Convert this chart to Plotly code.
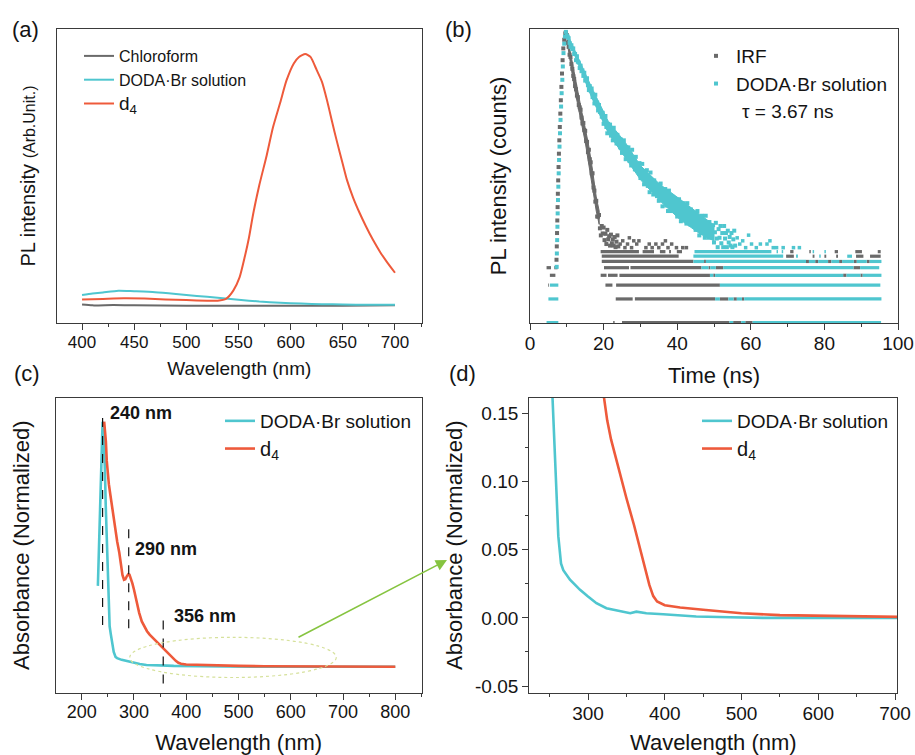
import numpy as np
import plotly.graph_objects as go

W, H = 915, 755
FONT = "Liberation Sans, Arial, Helvetica, sans-serif"
GRAY = "#6a6a6a"
CYAN = "#4fc6cf"
RED = "#ee5a3b"
AX = "#3a3a3a"
TXT = "#141414"

# ---------------- (a) PL spectra ----------------
A_WL_CHL = [400, 410, 430, 450, 500, 550, 600, 650, 700]
A_PL_CHL = [0.063, 0.060, 0.061, 0.060, 0.059, 0.059, 0.059, 0.059, 0.060]
A_WL_DODA = [400, 410, 420, 435, 450, 470, 490, 510, 530, 550, 570, 590, 610, 630, 650, 675, 700]
A_PL_DODA = [0.095, 0.100, 0.104, 0.110, 0.108, 0.105, 0.099, 0.092, 0.086, 0.079, 0.073,
             0.069, 0.066, 0.064, 0.063, 0.062, 0.062]
A_WL_D4 = [400, 420, 440, 460, 480, 500, 520, 530, 538, 545, 551, 556, 560, 564, 570, 577, 583,
           590, 596, 603, 608, 614, 619, 625, 630, 635, 640, 644, 650, 654, 660, 666, 672, 679,
           686, 692, 700]
A_PL_D4 = [0.080, 0.082, 0.084, 0.083, 0.080, 0.078, 0.076, 0.076, 0.082, 0.110, 0.155, 0.225,
           0.29, 0.37, 0.47, 0.57, 0.665, 0.75, 0.825, 0.883, 0.905, 0.915, 0.905, 0.86, 0.82,
           0.755, 0.68, 0.622, 0.54, 0.486, 0.425, 0.375, 0.33, 0.282, 0.24, 0.209, 0.171]

# ---------------- (b) TRPL decay (log10 of counts) ----------------
B_CHANNEL_NS = 0.25
B_IRF_DECAY_T0 = 9.75
B_IRF_DECAY_LOG10 = [
    3.69, 3.66, 3.56, 3.51, 3.41, 3.38, 3.29, 3.23, 3.14, 3.10,
    3.01, 2.97, 2.89, 2.87, 2.77, 2.74, 2.71, 2.61, 2.535, 2.54,
    2.45, 2.44, 2.31, 2.30, 2.17, 2.20, 2.08, 2.04, 1.90, 1.90,
    1.72, 1.68, 1.54, 1.55, 1.35, 1.35, 1.37, 1.20, 1.11, 1.23,
    1.135, 1.21, 1.05, 1.13, 1.00, 1.18, 1.06, 1.10, 0.98, 1.12,
    1.01, 1.06, 0.98, 1.09, 0.96, 1.03, 1.11, 0.97]
B_CYAN_DECAY_T0 = 9.75
B_CYAN_DECAY_LOG10 = [
    3.70, 3.65, 3.64, 3.62, 3.56, 3.51, 3.53, 3.48, 3.49, 3.42,
    3.42, 3.34, 3.39, 3.32, 3.31, 3.24, 3.27, 3.20, 3.21, 3.14,
    3.18, 3.08, 3.10, 3.11, 3.02, 2.96, 3.01, 2.95, 2.98, 2.87,
    2.90, 2.79, 2.90, 2.79, 2.80, 2.70, 2.77, 2.68, 2.69, 2.62,
    2.67, 2.53, 2.58, 2.63, 2.49, 2.41, 2.53, 2.45, 2.52, 2.38,
    2.44, 2.32, 2.48, 2.36, 2.39, 2.28, 2.39, 2.28, 2.32, 2.23,
    2.33, 2.16, 2.25, 2.32, 2.16, 2.08, 2.23, 2.14, 2.23, 2.06,
    2.15, 2.00, 2.20, 2.06, 2.10, 1.95, 2.11, 1.96, 2.01, 1.91,
    2.03, 1.84, 1.94, 2.02, 1.85, 1.76, 1.93, 1.83, 1.94, 1.74,
    1.84, 1.66, 1.91, 1.74, 1.80, 1.63, 1.81, 1.66, 1.72, 1.61,
    1.75, 1.55, 1.66, 1.77, 1.57, 1.48, 1.68, 1.57, 1.70, 1.49,
    1.60, 1.42, 1.68, 1.52, 1.58, 1.42, 1.60, 1.46, 1.52, 1.41,
    1.55, 1.35, 1.46, 1.57, 1.38, 1.29, 1.49, 1.39, 1.52, 1.32,
    1.43, 1.26, 1.52, 1.36, 1.42, 1.25, 1.44, 1.29, 1.35, 1.24,
    1.40, 1.18, 1.31, 1.42, 1.21, 1.11, 1.33, 1.22, 1.36, 1.14,
    1.27, 1.08, 1.36, 1.19, 1.25, 1.08, 1.28, 1.13, 1.19, 1.08,
    1.24, 1.02, 1.15, 1.27, 1.07, 0.96, 1.19, 1.08, 1.23, 1.01,
    1.14, 0.96, 1.23, 1.07, 1.14, 0.96, 1.17, 1.02, 1.09, 0.98,
    1.14, 0.96, 1.06, 1.17, 0.98]
# dense noise envelope of each decay (time ns, lower / upper log10 counts)
B_IRF_BAND_T = [10, 11, 12, 13, 14, 15, 16, 17, 18, 18.8]
B_IRF_BAND_LO_LOG10 = [3.60, 3.30, 3.00, 2.76, 2.53, 2.30, 2.04, 1.73, 1.42, 1.25]
B_IRF_BAND_HI_LOG10 = [3.68, 3.43, 3.15, 2.93, 2.70, 2.48, 2.24, 1.94, 1.60, 1.42]
B_CYAN_BAND_T = [10, 12.2, 16.8, 21.3, 25.8, 30, 35.3, 40.8, 46.2, 50]
B_CYAN_BAND_LO_LOG10 = [3.65, 3.39, 2.86, 2.41, 2.10, 1.82, 1.55, 1.31, 1.13, 1.04]
B_CYAN_BAND_HI_LOG10 = [3.69, 3.46, 2.99, 2.56, 2.30, 2.00, 1.76, 1.57, 1.37, 1.24]
B_IRF_RISE_T = [7.20, 7.28, 7.35, 7.42, 7.50, 7.57, 7.66, 7.76, 7.86, 7.97, 8.10, 8.24, 8.38,
                8.53, 8.70, 8.86, 9.05, 9.30, 9.60]
B_IRF_RISE_LOG10 = [0.80, 0.97, 1.14, 1.30, 1.47, 1.64, 1.81, 1.98, 2.15, 2.32, 2.49, 2.66, 2.83,
                    3.00, 3.17, 3.34, 3.49, 3.60, 3.68]
B_CYAN_RISE_T = [7.25, 7.30, 7.38, 7.45, 7.52, 7.60, 7.70, 7.80, 7.90, 8.02, 8.15, 8.30, 8.45,
                 8.60, 8.78, 8.92, 9.10, 9.30, 9.50]
B_CYAN_RISE_LOG10 = [0.71, 0.88, 1.05, 1.22, 1.39, 1.56, 1.73, 1.90, 2.07, 2.24, 2.41, 2.58, 2.75,
                     2.92, 3.09, 3.26, 3.43, 3.55, 3.64]
B_IRF_SPARSE_T = [24.5, 25.2, 25.8, 26.5, 27.0, 27.6, 28.2, 29.0, 29.6, 31.5, 32.4, 33.2, 34.2,
                  35.0, 36.0, 36.8, 37.5, 38.5, 39.8, 41.5, 42.5]
B_IRF_SPARSE_LOG10 = [1.0, 1.041, 0.954, 1.0, 1.079, 0.954, 1.041, 1.0, 1.041, 0.954, 1.0, 0.954,
                      1.0, 0.954, 1.0, 1.041, 0.954, 1.0, 0.954, 0.954, 0.954]
B_CYAN_SPARSE_T = [56.3, 57.0, 57.8, 58.6, 59.4, 60.2, 61.5, 62.6, 64.4, 65.2, 66.1, 67.0, 68.8,
                   71.6, 73.2]
B_CYAN_SPARSE_LOG10 = [1.079, 1.0, 1.041, 0.954, 1.113, 1.0, 0.954, 1.0, 1.0, 1.041, 0.954, 0.954,
                       0.954, 0.954, 0.954]
# low-count channels: (counts, t_start_ns, t_end_ns)
B_IRF_LOW = [
    (3, 4.9, 5.1), (4, 5.4, 6.9), (5, 4.5, 5.7), (5, 6.6, 7.5),
    (1, 22.6, 23.0), (1, 25.0, 54.2), (1, 55.2, 57.4), (1, 58.5, 60.5),
    (2, 23.3, 27.9), (2, 28.5, 50.3), (2, 51.6, 53.9), (2, 55.3, 56.2), (2, 57.6, 58.2),
    (3, 20.5, 22.4), (3, 23.4, 51.6),
    (4, 19.2, 20.8), (4, 21.2, 23.8), (4, 24.3, 48.9), (4, 49.8, 50.3), (4, 85.1, 86.0), (4, 89.8, 90.4),
    (5, 20.1, 26.9), (5, 27.3, 46.6), (5, 48.5, 49.0), (5, 50.5, 52.5), (5, 87.9, 89.7),
    (6, 19.5, 44.4), (6, 47.3, 47.8), (6, 75.0, 75.8), (6, 77.5, 78.3), (6, 81.0, 81.9),
    (6, 84.0, 84.8), (6, 88.0, 88.8), (6, 91.5, 92.3),
    (7, 19.5, 40.4), (7, 69.6, 71.7), (7, 76.8, 77.3), (7, 80.0, 80.5), (7, 83.2, 83.7),
    (7, 88.6, 90.6), (7, 92.4, 95.3),
    (8, 19.2, 29.6), (8, 30.6, 33.7), (8, 35.3, 36.8), (8, 37.8, 38.3), (8, 39.9, 41.3),
    (8, 70.7, 71.6), (8, 75.9, 76.3), (8, 82.8, 83.7), (8, 88.4, 90.2), (8, 94.5, 95.3)]
B_CYAN_LOW = [
    (1, 4.5, 7.7), (2, 5.0, 7.7), (3, 5.4, 7.7),
    (1, 54.2, 55.2), (1, 57.4, 58.5), (1, 60.5, 95.4),
    (2, 50.3, 51.6), (2, 53.9, 55.3), (2, 56.2, 57.6), (2, 58.2, 95.5),
    (3, 51.6, 95.2),
    (4, 48.9, 49.8), (4, 50.3, 85.1), (4, 86.0, 89.8), (4, 90.4, 95.5),
    (5, 46.6, 48.5), (5, 49.0, 50.5), (5, 52.5, 87.9), (5, 89.7, 94.9),
    (6, 44.4, 47.3), (6, 47.8, 75.0), (6, 75.8, 77.5), (6, 78.3, 81.0), (6, 81.9, 84.0),
    (6, 84.8, 88.0), (6, 88.8, 91.5), (6, 92.3, 95.5),
    (7, 44.4, 68.8), (7, 72.3, 72.8), (7, 78.6, 79.0), (7, 86.2, 87.5),
    (8, 44.7, 65.6), (8, 67.0, 67.4), (8, 68.4, 68.8), (8, 76.8, 77.2), (8, 80.0, 80.4)]

# ---------------- (c)/(d) absorbance ----------------
UV_WL_DODA = [231, 233, 235, 237, 238.5, 240, 241.5, 243, 244.5, 246, 247.5, 249, 250.5, 252,
              253.5, 255.7, 258.3, 261.3, 264.8, 267.8, 276.5, 289.6, 300, 311, 324, 337, 355,
              363, 376, 398, 420, 441, 485, 528, 600, 650, 700, 750, 800]
UV_ABS_DODA = [0.33, 0.48, 0.68, 0.86, 0.96, 1.0, 0.98, 0.90, 0.80, 0.66, 0.54, 0.42, 0.30, 0.21,
               0.165, 0.133, 0.097, 0.06, 0.04, 0.035, 0.028, 0.0206, 0.0157, 0.0108, 0.0071,
               0.0054, 0.0034, 0.0046, 0.0034, 0.0027, 0.0017, 0.001, 0.0005, 0.0, 0.0, 0.0,
               -0.0003, 0.0, 0.0]
UV_WL_D4 = [243, 244.5, 246.3, 248, 250, 252, 255, 258, 261, 264, 268, 272, 275, 278, 281, 283.5,
            286, 289, 291.5, 294, 297, 300, 303, 306, 310, 315, 320.4, 325, 330, 340, 350, 360,
            370, 375, 380, 385, 390, 400, 420, 450, 500, 550, 600, 650, 700, 750, 800]
UV_ABS_D4 = [1.0, 0.97, 0.92, 0.84, 0.78, 0.745, 0.70, 0.655, 0.61, 0.56, 0.51, 0.465, 0.42,
             0.375, 0.355, 0.357, 0.368, 0.377, 0.375, 0.362, 0.34, 0.315, 0.285, 0.255, 0.22,
             0.185, 0.162, 0.145, 0.131, 0.109, 0.088, 0.068, 0.046, 0.034, 0.024, 0.016, 0.012,
             0.0093, 0.0076, 0.006, 0.0034, 0.002, 0.0015, 0.001, 0.0005, 0.0003, 0.0]
PEAK_MARKS_NM = [240, 290, 356]
PEAK_LABELS = ["240 nm", "290 nm", "356 nm"]
D_Y_TICKVALS = [-0.05, 0.0, 0.05, 0.10, 0.15]
D_Y_TICKTEXT = ["-0.05", "0.00", "0.05", "0.10", "0.15"]
D_Y_MINOR = [-0.025, 0.025, 0.075, 0.125]

D4_NAME_A = "<span style='font-size:19px'>d<sub>4</sub></span>"
D4_NAME_C = "<span style='font-size:20px'>d<sub>4</sub></span>"
DODA = "DODA\u00b7Br solution"


def px_x(p):
    return p / W


def px_y(p):
    return 1 - p / H


def seg_xy(segs):
    xs, ys = [], []
    for c, a, b in segs:
        xs += [a, b, None]
        ys += [c, c, None]
    return xs, ys


fig = go.Figure()

# (a)
fig.add_trace(go.Scatter(x=A_WL_CHL, y=A_PL_CHL, mode="lines", name="Chloroform",
                         line=dict(color=GRAY, width=2, shape="spline", smoothing=0.6),
                         xaxis="x", yaxis="y", legend="legend"))
fig.add_trace(go.Scatter(x=A_WL_DODA, y=A_PL_DODA, mode="lines", name=DODA,
                         line=dict(color=CYAN, width=2, shape="spline", smoothing=0.6),
                         xaxis="x", yaxis="y", legend="legend"))
fig.add_trace(go.Scatter(x=A_WL_D4, y=A_PL_D4, mode="lines", name=D4_NAME_A,
                         line=dict(color=RED, width=2, shape="spline", smoothing=0.6),
                         xaxis="x", yaxis="y", legend="legend"))

# (b)
ch = B_CHANNEL_NS
irf_t = B_IRF_DECAY_T0 + ch * np.arange(len(B_IRF_DECAY_LOG10))
cy_t = B_CYAN_DECAY_T0 + ch * np.arange(len(B_CYAN_DECAY_LOG10))
mk = dict(symbol="square", size=4)
for color, name, dt, dv, bt, blo, bhi, rt, rv, st, sv, low in [
        (GRAY, "IRF", irf_t, B_IRF_DECAY_LOG10, B_IRF_BAND_T, B_IRF_BAND_LO_LOG10,
         B_IRF_BAND_HI_LOG10, B_IRF_RISE_T, B_IRF_RISE_LOG10,
         B_IRF_SPARSE_T, B_IRF_SPARSE_LOG10, B_IRF_LOW),
        (CYAN, DODA, cy_t, B_CYAN_DECAY_LOG10, B_CYAN_BAND_T, B_CYAN_BAND_LO_LOG10,
         B_CYAN_BAND_HI_LOG10, B_CYAN_RISE_T, B_CYAN_RISE_LOG10,
         B_CYAN_SPARSE_T, B_CYAN_SPARSE_LOG10, B_CYAN_LOW)]:
    fig.add_trace(go.Scatter(x=dt, y=np.power(10.0, dv), mode="markers", name=name,
                             marker=dict(color=color, **mk),
                             xaxis="x2", yaxis="y2", legend="legend2"))
    band_x = list(bt) + list(bt)[::-1]
    band_y = list(np.power(10.0, bhi)) + list(np.power(10.0, blo))[::-1]
    fig.add_trace(go.Scatter(x=band_x, y=band_y, mode="lines", fill="toself",
                             fillcolor=color, line=dict(color=color, width=1), name=name,
                             showlegend=False, hoverinfo="skip",
                             xaxis="x2", yaxis="y2", legend="legend2"))
    fig.add_trace(go.Scatter(x=rt, y=np.power(10.0, rv), mode="markers", name=name,
                             marker=dict(color=color, **mk), showlegend=False,
                             xaxis="x2", yaxis="y2", legend="legend2"))
    fig.add_trace(go.Scatter(x=st, y=np.power(10.0, sv), mode="markers", name=name,
                             marker=dict(color=color, symbol="square", size=3.5),
                             showlegend=False, xaxis="x2", yaxis="y2", legend="legend2"))
    lx, ly = seg_xy(low)
    fig.add_trace(go.Scatter(x=lx, y=ly, mode="lines", name=name,
                             line=dict(color=color, width=3.2),
                             showlegend=False, xaxis="x2", yaxis="y2", legend="legend2"))

# (c)
fig.add_trace(go.Scatter(x=UV_WL_DODA, y=UV_ABS_DODA, mode="lines", name=DODA,
                         line=dict(color=CYAN, width=2.6), xaxis="x3", yaxis="y3",
                         legend="legend3"))
fig.add_trace(go.Scatter(x=UV_WL_D4, y=UV_ABS_D4, mode="lines", name=D4_NAME_C,
                         line=dict(color=RED, width=2.6), xaxis="x3", yaxis="y3",
                         legend="legend3"))
# (d)
fig.add_trace(go.Scatter(x=UV_WL_DODA, y=UV_ABS_DODA, mode="lines", name=DODA,
                         line=dict(color=CYAN, width=2.6), xaxis="x4", yaxis="y4",
                         legend="legend4"))
fig.add_trace(go.Scatter(x=UV_WL_D4, y=UV_ABS_D4, mode="lines", name=D4_NAME_C,
                         line=dict(color=RED, width=2.6), xaxis="x4", yaxis="y4",
                         legend="legend4"))


def xax(domain, rng, anchor, tick0, dtick, mdtick, fsize, title, tsize, standoff):
    return dict(domain=domain, range=rng, anchor=anchor, showline=True, linecolor=AX,
                linewidth=1.3, mirror=True, ticks="outside", ticklen=6, tickwidth=1.2,
                tickcolor=AX, tickmode="linear", tick0=tick0, dtick=dtick,
                ticklabelstandoff=-3,
                minor=dict(ticks="outside", ticklen=3, tickwidth=1, tickcolor=AX,
                           tick0=tick0, dtick=mdtick, showgrid=False),
                showgrid=False, zeroline=False, automargin=False,
                tickfont=dict(family=FONT, size=fsize, color=TXT),
                title=dict(text=title, font=dict(family=FONT, size=tsize, color=TXT),
                           standoff=standoff))


def yax_plain(domain, rng, anchor, title, tsize, standoff, typ="linear"):
    return dict(domain=domain, range=rng, anchor=anchor, type=typ, showline=True,
                linecolor=AX, linewidth=1.3, mirror=True, ticks="", showticklabels=False,
                showgrid=False, zeroline=False, automargin=False,
                title=dict(text=title, font=dict(family=FONT, size=tsize, color=TXT),
                           standoff=standoff))


top_dom = [px_y(323), px_y(29)]
bot_dom = [px_y(692.7), px_y(397.7)]

layout = dict(
    width=W, height=H, margin=dict(l=0, r=0, t=0, b=0),
    paper_bgcolor="white", plot_bgcolor="white",
    font=dict(family=FONT, color=TXT),
    xaxis=xax([px_x(57), px_x(421.7)], [376, 725.6], "y", 400, 50, 25, 17,
              "Wavelength (nm)", 19, 11),
    yaxis=yax_plain(top_dom, [0, 1], "x",
                    "PL intensity <span style='font-size:16px'>(Arb.Unit.)</span>", 20, 14),
    xaxis2=xax([px_x(530), px_x(898)], [0, 100], "y2", 0, 20, 10, 19, "Time (ns)", 22, 14),
    yaxis2=yax_plain(top_dom, [-0.005, 3.737], "x2", "PL intensity (counts)", 22, 16, "log"),
    xaxis3=xax([px_x(55.7), px_x(421.7)], [150.3, 850.5], "y3", 200, 100, 50, 18,
               "Wavelength (nm)", 22, 13),
    yaxis3=yax_plain(bot_dom, [-0.106, 1.098], "x3", "Absorbance (Normalized)", 22, 18),
    xaxis4=xax([px_x(529.3), px_x(897.3)], [223.5, 703], "y4", 300, 100, 50, 19,
               "Wavelength (nm)", 22, 13),
    yaxis4=dict(domain=bot_dom, range=[-0.0549, 0.1616], anchor="x4", showline=True,
                linecolor=AX, linewidth=1.3, mirror=True, ticks="outside", ticklen=6,
                tickwidth=1.2, tickcolor=AX, tickmode="array", tickvals=D_Y_TICKVALS,
                ticktext=D_Y_TICKTEXT,
                minor=dict(ticks="outside", ticklen=3, tickwidth=1, tickcolor=AX,
                           tickmode="array", tickvals=D_Y_MINOR, showgrid=False),
                showgrid=False, zeroline=False, automargin=False,
                tickfont=dict(family=FONT, size=19, color=TXT),
                title=dict(text="Absorbance (Normalized)",
                           font=dict(family=FONT, size=22, color=TXT), standoff=6)),
    legend=dict(x=px_x(79), y=px_y(39), xanchor="left", yanchor="top",
                bgcolor="rgba(0,0,0,0)", font=dict(family=FONT, size=16, color=TXT),
                tracegroupgap=0, itemsizing="trace"),
    legend2=dict(x=px_x(696), y=px_y(37), xanchor="left", yanchor="top",
                 bgcolor="rgba(0,0,0,0)", font=dict(family=FONT, size=19, color=TXT),
                 tracegroupgap=0, itemsizing="trace"),
    legend3=dict(x=px_x(220), y=px_y(402), xanchor="left", yanchor="top",
                 bgcolor="rgba(0,0,0,0)", font=dict(family=FONT, size=19, color=TXT),
                 tracegroupgap=0),
    legend4=dict(x=px_x(697), y=px_y(402), xanchor="left", yanchor="top",
                 bgcolor="rgba(0,0,0,0)", font=dict(family=FONT, size=19, color=TXT),
                 tracegroupgap=0),
    showlegend=True,
)
fig.update_layout(**layout)

# panel letters
for txt, x, y in [("(a)", 10, 29), ("(b)", 443, 29), ("(c)", 12, 373), ("(d)", 447, 373)]:
    fig.add_annotation(text=txt, x=px_x(x), y=px_y(y), xref="paper", yref="paper",
                       xanchor="left", yanchor="middle", showarrow=False,
                       font=dict(family=FONT, size=22, color=TXT))

# tau label in (b)
fig.add_annotation(text="\u03c4 = 3.67 ns", x=px_x(740), y=px_y(112), xref="paper",
                   yref="paper", xanchor="left", yanchor="middle", showarrow=False,
                   font=dict(family=FONT, size=19, color=TXT))

# peak markers in (c)
line_ext = [(1.034, 0.17), (0.578, 0.157), (0.19, -0.068)]
label_pos = [(250.9, 1.0375), (298.8, 0.48), (372.2, 0.209)]
for wl, lab, (ytop, ybot), (lx, ly) in zip(PEAK_MARKS_NM, PEAK_LABELS, line_ext, label_pos):
    fig.add_shape(type="line", xref="x3", yref="y3", x0=wl, x1=wl, y0=ybot, y1=ytop,
                  line=dict(color="#111111", width=1.2, dash="dash"))
    fig.add_annotation(text="<b>%s</b>" % lab, x=lx, y=ly, xref="x3", yref="y3",
                       xanchor="left", yanchor="middle", showarrow=False,
                       font=dict(family=FONT, size=18, color=TXT))

# ellipse highlighting the zoomed region
fig.add_shape(type="circle", xref="x3", yref="y3", x0=292, x1=687, y0=-0.044, y1=0.12,
              line=dict(color="#d6e19b", width=1.2, dash="dot"))

# arrow from (c) to (d)
fig.add_annotation(text="", x=px_x(447), y=px_y(560), xref="paper", yref="paper",
                   ax=-150, ay=78, axref="pixel", ayref="pixel", showarrow=True,
                   arrowhead=2, arrowsize=1.4, arrowwidth=1.6, arrowcolor="#86c440")

fig.write_html("out.html")
